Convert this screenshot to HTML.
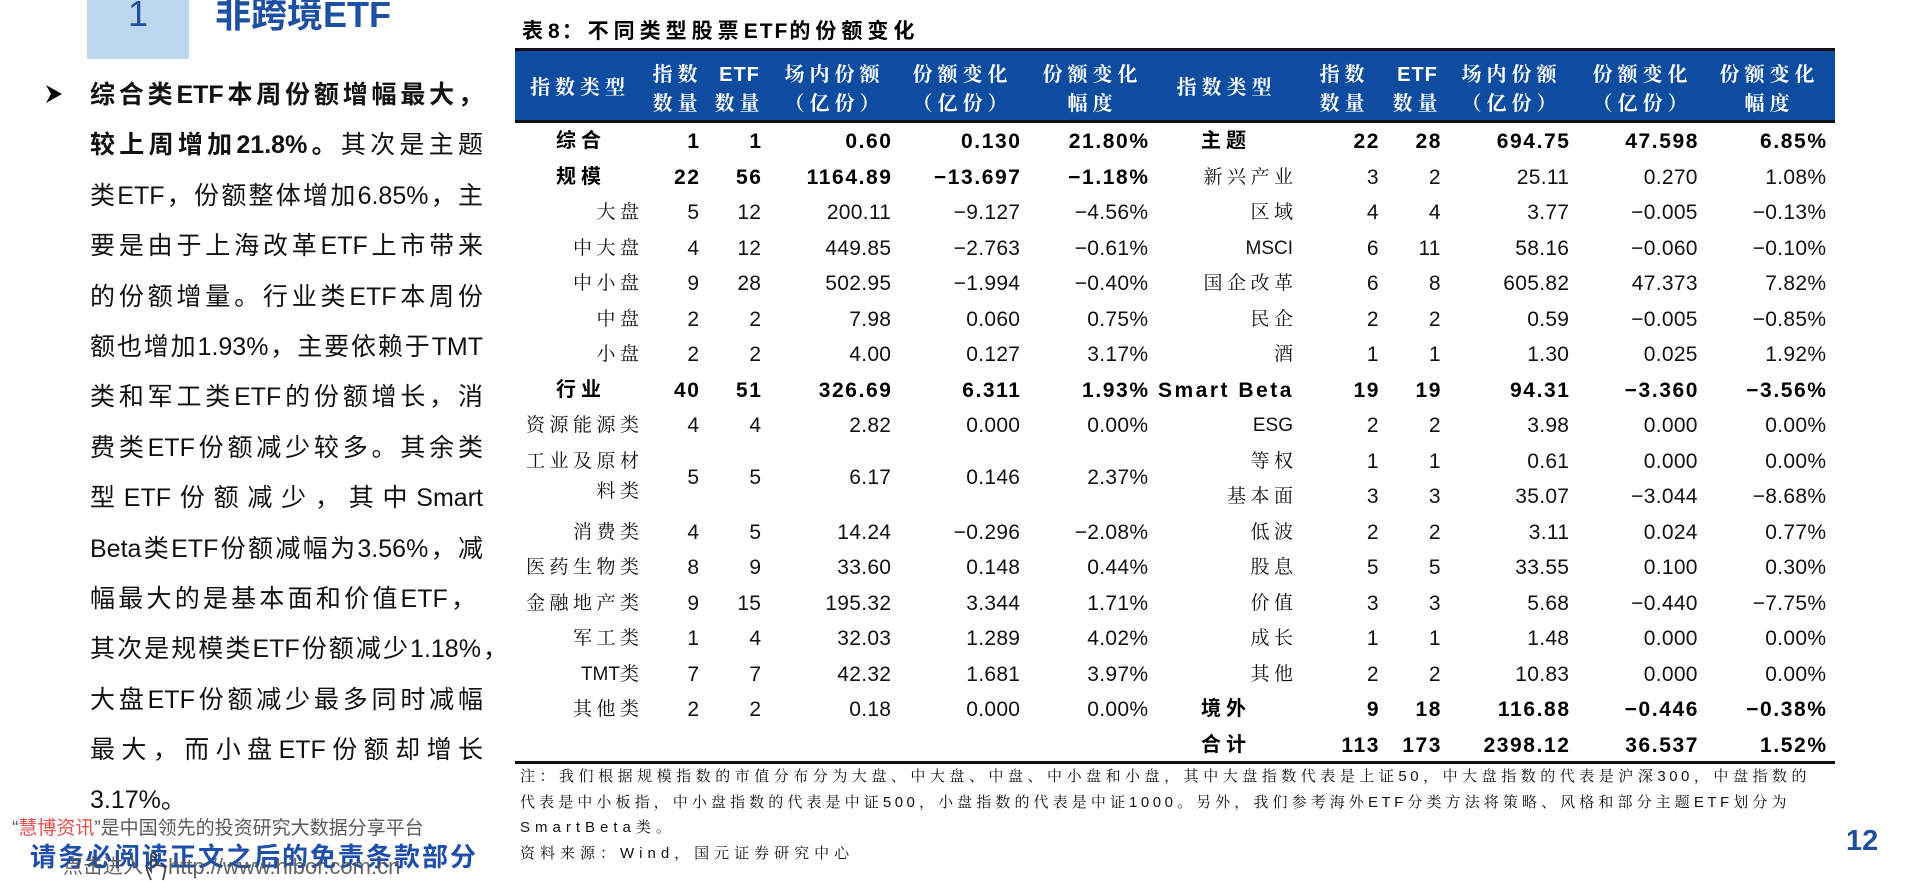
<!DOCTYPE html>
<html><head><meta charset="utf-8">
<style>
*{margin:0;padding:0;box-sizing:border-box}
html,body{width:1920px;height:882px;overflow:hidden;background:#fff}
body{position:relative;font-family:"Liberation Sans","Noto Sans CJK SC",sans-serif;color:#111}
.a{position:absolute;white-space:nowrap}
.para{position:absolute;left:90px;top:70px;width:393px;font-size:25px;color:#111;font-family:"Liberation Sans","Noto Sans CJK SC",sans-serif}
.ln{height:50.4px;line-height:50.4px;text-align:justify;text-align-last:justify;overflow:visible}
.hd{position:absolute;width:120px;color:#fff;font-family:"Liberation Sans","Noto Serif CJK SC",serif;font-weight:700;font-size:20px;letter-spacing:5px;line-height:29px;text-align:center;padding-left:5px;white-space:nowrap}
.hd .e{letter-spacing:1px}
.r{position:absolute;left:0;width:1920px;height:35.5px;line-height:35.5px}
.r>span{position:absolute;top:0;white-space:nowrap}
.n{font-family:"Liberation Sans",sans-serif;font-size:21px;letter-spacing:0.3px;margin-right:-0.3px;color:#111}
.n.b{font-weight:700;letter-spacing:1.6px;margin-right:-1.6px;color:#000}
.sl{font-family:"Liberation Sans","Noto Serif CJK SC",serif;font-size:19px;letter-spacing:4.5px;margin-right:-4.5px;color:#111}
.sl .lt{letter-spacing:0}
.bl{font-family:"Liberation Sans","Noto Sans CJK SC",sans-serif;font-weight:700;font-size:20px;letter-spacing:5px;color:#000}
.c1{right:1221px}.c2{right:1159px}.c3{right:1029px}.c4{right:900px}.c5{right:772px}
.d1{right:541.5px}.d2{right:479.5px}.d3{right:351px}.d4{right:222.5px}.d5{right:94px}
.ls{right:1281px}.rs{right:627px}
.note{position:absolute;left:520px;font-family:"Liberation Sans","Noto Serif CJK SC",serif;font-size:15px;line-height:25.7px;height:25.7px;color:#111}
.nj{letter-spacing:3.5px;text-align:justify;text-align-last:justify}
.nn{letter-spacing:5px;white-space:nowrap}
.tt i{font-style:normal;letter-spacing:2px}
</style></head><body>

<!-- section header -->
<div class="a" style="left:87px;top:0;width:102px;height:59px;background:#bdd7ee"></div>
<div class="a" style="left:128px;top:-4.5px;font-size:36px;line-height:36px;color:#1f4e9a">1</div>
<div class="a" style="left:215px;top:-3.5px;font-size:36px;line-height:36px;font-weight:700;color:#1e50a2">非跨境ETF</div>

<!-- bullet -->
<svg class="a" style="left:0;top:0" width="80" height="120"><polygon points="46,85 62,94 46,103 51,94" fill="#000"/></svg>

<!-- paragraph -->
<div class="para">
<div class="ln"><b>综合类ETF本周份额增幅最大，</b></div>
<div class="ln"><b>较上周增加21.8%。</b>其次是主题</div>
<div class="ln">类ETF，份额整体增加6.85%，主</div>
<div class="ln">要是由于上海改革ETF上市带来</div>
<div class="ln">的份额增量。行业类ETF本周份</div>
<div class="ln">额也增加1.93%，主要依赖于TMT</div>
<div class="ln">类和军工类ETF的份额增长，消</div>
<div class="ln">费类ETF份额减少较多。其余类</div>
<div class="ln">型ETF份额减少，其中Smart</div>
<div class="ln">Beta类ETF份额减幅为3.56%，减</div>
<div class="ln" style="width:386px">幅最大的是基本面和价值ETF，</div>
<div class="ln" style="width:418px">其次是规模类ETF份额减少1.18%，</div>
<div class="ln">大盘ETF份额减少最多同时减幅</div>
<div class="ln">最大，而小盘ETF份额却增长</div>
<div class="ln" style="text-align:left;text-align-last:left">3.17%。</div>
</div>

<!-- watermark / footer left -->
<div class="a" style="left:12px;top:815px;font-size:19px;line-height:28px;color:#5a5a5a">“<span style="color:#e8504f">慧博资讯</span>”是中国领先的投资研究大数据分享平台</div>
<div class="a" style="left:30px;top:840px;font-size:26px;line-height:34px;font-weight:700;letter-spacing:2px;color:#1f4fa8">请务必阅读正文之后的免责条款部分</div>
<div class="a" style="left:63px;top:854px;font-size:20px;line-height:26px;color:#555;opacity:0.9">点击进入</div>
<svg class="a" style="left:143px;top:852px" width="26" height="30"><path d="M8 28 L4 18 Q3 15 6 16 L8 19 L8 4 Q8 1 10.5 1 Q13 1 13 4 L13 13 L20 14 Q23 15 22 19 L20 28" fill="none" stroke="#444" stroke-width="1.8"/></svg>
<div class="a" style="left:168px;top:854px;font-size:22px;line-height:26px;color:#555;opacity:0.9">http://www.hibor.com.cn</div>

<!-- table title -->
<div class="a tt" style="left:522px;top:17px;font-size:21px;line-height:30px;font-weight:700;letter-spacing:5px;color:#000">表<i>8</i>：不同类型股票<i>ETF</i>的份额变化</div>

<!-- table header -->
<div class="a" style="left:515px;top:48px;width:1320px;height:3px;background:#111"></div>
<div class="a" style="left:515px;top:51px;width:1320px;height:69px;background:#0e4c9f"></div>
<div class="a" style="left:515px;top:120px;width:1320px;height:3px;background:#111"></div>

<div class="hd" style="left:517.5px;top:74px">指数类型</div>
<div class="hd" style="left:615px;top:61px">指数<br>数量</div>
<div class="hd" style="left:677px;top:61px"><span class="e">ETF</span><br>数量</div>
<div class="hd" style="left:772px;top:61px">场内份额<br>（亿份）</div>
<div class="hd" style="left:900px;top:61px">份额变化<br>（亿份）</div>
<div class="hd" style="left:1030px;top:61px">份额变化<br>幅度</div>
<div class="hd" style="left:1164px;top:74px">指数类型</div>
<div class="hd" style="left:1282px;top:61px">指数<br>数量</div>
<div class="hd" style="left:1355px;top:61px"><span class="e">ETF</span><br>数量</div>
<div class="hd" style="left:1449px;top:61px">场内份额<br>（亿份）</div>
<div class="hd" style="left:1580px;top:61px">份额变化<br>（亿份）</div>
<div class="hd" style="left:1707px;top:61px">份额变化<br>幅度</div>

<!-- left half rows -->
<div class="r" style="top:124.25px"><span class="bl" style="left:556px">综合</span><span class="n b c1">1</span><span class="n b c2">1</span><span class="n b c3">0.60</span><span class="n b c4">0.130</span><span class="n b c5">21.80%</span></div>
<div class="r" style="top:159.75px"><span class="bl" style="left:556px">规模</span><span class="n b c1">22</span><span class="n b c2">56</span><span class="n b c3">1164.89</span><span class="n b c4">−13.697</span><span class="n b c5">−1.18%</span></div>
<div class="r" style="top:195.25px"><span class="sl ls">大盘</span><span class="n c1">5</span><span class="n c2">12</span><span class="n c3">200.11</span><span class="n c4">−9.127</span><span class="n c5">−4.56%</span></div>
<div class="r" style="top:230.75px"><span class="sl ls">中大盘</span><span class="n c1">4</span><span class="n c2">12</span><span class="n c3">449.85</span><span class="n c4">−2.763</span><span class="n c5">−0.61%</span></div>
<div class="r" style="top:266.25px"><span class="sl ls">中小盘</span><span class="n c1">9</span><span class="n c2">28</span><span class="n c3">502.95</span><span class="n c4">−1.994</span><span class="n c5">−0.40%</span></div>
<div class="r" style="top:301.75px"><span class="sl ls">中盘</span><span class="n c1">2</span><span class="n c2">2</span><span class="n c3">7.98</span><span class="n c4">0.060</span><span class="n c5">0.75%</span></div>
<div class="r" style="top:337.25px"><span class="sl ls">小盘</span><span class="n c1">2</span><span class="n c2">2</span><span class="n c3">4.00</span><span class="n c4">0.127</span><span class="n c5">3.17%</span></div>
<div class="r" style="top:372.75px"><span class="bl" style="left:556px">行业</span><span class="n b c1">40</span><span class="n b c2">51</span><span class="n b c3">326.69</span><span class="n b c4">6.311</span><span class="n b c5">1.93%</span></div>
<div class="r" style="top:408.25px"><span class="sl ls">资源能源类</span><span class="n c1">4</span><span class="n c2">4</span><span class="n c3">2.82</span><span class="n c4">0.000</span><span class="n c5">0.00%</span></div>
<div class="r" style="top:444.25px"><span class="sl ls">工业及原材</span></div>
<div class="r" style="top:474.25px"><span class="sl ls">料类</span></div>
<div class="r" style="top:460.25px"><span class="n c1">5</span><span class="n c2">5</span><span class="n c3">6.17</span><span class="n c4">0.146</span><span class="n c5">2.37%</span></div>
<div class="r" style="top:514.75px"><span class="sl ls">消费类</span><span class="n c1">4</span><span class="n c2">5</span><span class="n c3">14.24</span><span class="n c4">−0.296</span><span class="n c5">−2.08%</span></div>
<div class="r" style="top:550.25px"><span class="sl ls">医药生物类</span><span class="n c1">8</span><span class="n c2">9</span><span class="n c3">33.60</span><span class="n c4">0.148</span><span class="n c5">0.44%</span></div>
<div class="r" style="top:585.75px"><span class="sl ls">金融地产类</span><span class="n c1">9</span><span class="n c2">15</span><span class="n c3">195.32</span><span class="n c4">3.344</span><span class="n c5">1.71%</span></div>
<div class="r" style="top:621.25px"><span class="sl ls">军工类</span><span class="n c1">1</span><span class="n c2">4</span><span class="n c3">32.03</span><span class="n c4">1.289</span><span class="n c5">4.02%</span></div>
<div class="r" style="top:656.75px"><span class="sl ls"><span class="lt">TMT</span>类</span><span class="n c1">7</span><span class="n c2">7</span><span class="n c3">42.32</span><span class="n c4">1.681</span><span class="n c5">3.97%</span></div>
<div class="r" style="top:692.25px"><span class="sl ls">其他类</span><span class="n c1">2</span><span class="n c2">2</span><span class="n c3">0.18</span><span class="n c4">0.000</span><span class="n c5">0.00%</span></div>

<!-- right half rows -->
<div class="r" style="top:124.25px"><span class="bl" style="left:1201px">主题</span><span class="n b d1">22</span><span class="n b d2">28</span><span class="n b d3">694.75</span><span class="n b d4">47.598</span><span class="n b d5">6.85%</span></div>
<div class="r" style="top:159.75px"><span class="sl rs">新兴产业</span><span class="n d1">3</span><span class="n d2">2</span><span class="n d3">25.11</span><span class="n d4">0.270</span><span class="n d5">1.08%</span></div>
<div class="r" style="top:195.25px"><span class="sl rs">区域</span><span class="n d1">4</span><span class="n d2">4</span><span class="n d3">3.77</span><span class="n d4">−0.005</span><span class="n d5">−0.13%</span></div>
<div class="r" style="top:230.75px"><span class="sl rs" style="margin-right:0"><span class="lt">MSCI</span></span><span class="n d1">6</span><span class="n d2">11</span><span class="n d3">58.16</span><span class="n d4">−0.060</span><span class="n d5">−0.10%</span></div>
<div class="r" style="top:266.25px"><span class="sl rs">国企改革</span><span class="n d1">6</span><span class="n d2">8</span><span class="n d3">605.82</span><span class="n d4">47.373</span><span class="n d5">7.82%</span></div>
<div class="r" style="top:301.75px"><span class="sl rs">民企</span><span class="n d1">2</span><span class="n d2">2</span><span class="n d3">0.59</span><span class="n d4">−0.005</span><span class="n d5">−0.85%</span></div>
<div class="r" style="top:337.25px"><span class="sl rs">酒</span><span class="n d1">1</span><span class="n d2">1</span><span class="n d3">1.30</span><span class="n d4">0.025</span><span class="n d5">1.92%</span></div>
<div class="r" style="top:372.75px"><span style="left:1158px;font-family:'Liberation Sans',sans-serif;font-weight:700;font-size:21px;letter-spacing:2.5px;color:#000">Smart Beta</span><span class="n b d1">19</span><span class="n b d2">19</span><span class="n b d3">94.31</span><span class="n b d4">−3.360</span><span class="n b d5">−3.56%</span></div>
<div class="r" style="top:408.25px"><span class="sl rs" style="margin-right:0"><span class="lt">ESG</span></span><span class="n d1">2</span><span class="n d2">2</span><span class="n d3">3.98</span><span class="n d4">0.000</span><span class="n d5">0.00%</span></div>
<div class="r" style="top:443.75px"><span class="sl rs">等权</span><span class="n d1">1</span><span class="n d2">1</span><span class="n d3">0.61</span><span class="n d4">0.000</span><span class="n d5">0.00%</span></div>
<div class="r" style="top:479.25px"><span class="sl rs">基本面</span><span class="n d1">3</span><span class="n d2">3</span><span class="n d3">35.07</span><span class="n d4">−3.044</span><span class="n d5">−8.68%</span></div>
<div class="r" style="top:514.75px"><span class="sl rs">低波</span><span class="n d1">2</span><span class="n d2">2</span><span class="n d3">3.11</span><span class="n d4">0.024</span><span class="n d5">0.77%</span></div>
<div class="r" style="top:550.25px"><span class="sl rs">股息</span><span class="n d1">5</span><span class="n d2">5</span><span class="n d3">33.55</span><span class="n d4">0.100</span><span class="n d5">0.30%</span></div>
<div class="r" style="top:585.75px"><span class="sl rs">价值</span><span class="n d1">3</span><span class="n d2">3</span><span class="n d3">5.68</span><span class="n d4">−0.440</span><span class="n d5">−7.75%</span></div>
<div class="r" style="top:621.25px"><span class="sl rs">成长</span><span class="n d1">1</span><span class="n d2">1</span><span class="n d3">1.48</span><span class="n d4">0.000</span><span class="n d5">0.00%</span></div>
<div class="r" style="top:656.75px"><span class="sl rs">其他</span><span class="n d1">2</span><span class="n d2">2</span><span class="n d3">10.83</span><span class="n d4">0.000</span><span class="n d5">0.00%</span></div>
<div class="r" style="top:692.25px"><span class="bl" style="left:1201px">境外</span><span class="n b d1">9</span><span class="n b d2">18</span><span class="n b d3">116.88</span><span class="n b d4">−0.446</span><span class="n b d5">−0.38%</span></div>
<div class="r" style="top:727.75px"><span class="bl" style="left:1201px">合计</span><span class="n b d1">113</span><span class="n b d2">173</span><span class="n b d3">2398.12</span><span class="n b d4">36.537</span><span class="n b d5">1.52%</span></div>

<!-- table bottom -->
<div class="a" style="left:515px;top:761px;width:1320px;height:3px;background:#111"></div>

<!-- notes -->
<div class="note nj" style="top:764px;width:1290px">注：我们根据规模指数的市值分布分为大盘、中大盘、中盘、中小盘和小盘，其中大盘指数代表是上证50，中大盘指数的代表是沪深300，中盘指数的</div>
<div class="note nj" style="top:789.7px;width:1270px">代表是中小板指，中小盘指数的代表是中证500，小盘指数的代表是中证1000。另外，我们参考海外ETF分类方法将策略、风格和部分主题ETF划分为</div>
<div class="note nn" style="top:815.4px">SmartBeta类。</div>
<div class="note nn" style="top:841.1px">资料来源：Wind，国元证券研究中心</div>

<!-- page number -->
<div class="a" style="left:1846px;top:824px;font-size:29px;line-height:34px;font-weight:700;color:#1f4e9a">12</div>

</body></html>
